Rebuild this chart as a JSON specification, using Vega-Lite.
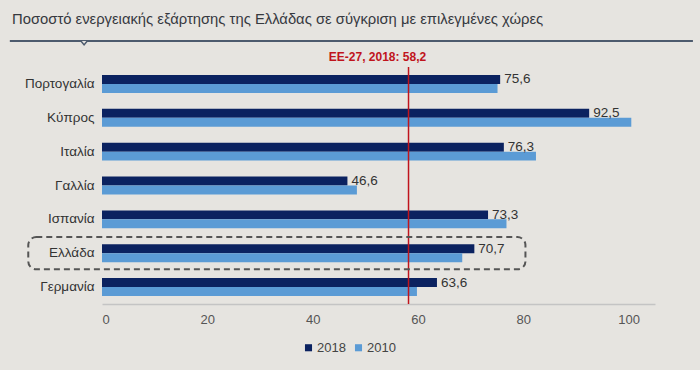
{
  "$schema": "https://vega.github.io/schema/vega-lite/v6.json",
  "width": 553,
  "height": 237,
  "autosize": {"type": "none"},
  "padding": {"left": 102, "top": 67, "right": 45, "bottom": 66},
  "background": "#e6e4e0",
  "title": {
    "text": "Ποσοστό ενεργειακής εξάρτησης της Ελλάδας σε σύγκριση με επιλεγμένες χώρες",
    "anchor": "start",
    "frame": "group",
    "dx": -90,
    "offset": 11,
    "font": "Liberation Sans",
    "fontSize": 14.8,
    "fontWeight": "normal",
    "color": "#36393f"
  },
  "config": {
    "view": {"stroke": null},
    "locale": {"number": {"decimal": ",", "thousands": ".", "grouping": [3], "currency": ["", " €"]}},
    "font": "Liberation Sans"
  },
  "datasets": {
    "bars": [
      {"country": "Πορτογαλία", "series": "2018", "value": 75.6},
      {"country": "Πορτογαλία", "series": "2010", "value": 75.1},
      {"country": "Κύπρος", "series": "2018", "value": 92.5},
      {"country": "Κύπρος", "series": "2010", "value": 100.5},
      {"country": "Ιταλία", "series": "2018", "value": 76.3},
      {"country": "Ιταλία", "series": "2010", "value": 82.4},
      {"country": "Γαλλία", "series": "2018", "value": 46.6},
      {"country": "Γαλλία", "series": "2010", "value": 48.4},
      {"country": "Ισπανία", "series": "2018", "value": 73.3},
      {"country": "Ισπανία", "series": "2010", "value": 76.8},
      {"country": "Ελλάδα", "series": "2018", "value": 70.7},
      {"country": "Ελλάδα", "series": "2010", "value": 68.4},
      {"country": "Γερμανία", "series": "2018", "value": 63.6},
      {"country": "Γερμανία", "series": "2010", "value": 59.8}
    ],
    "ref": [{"label": "ΕΕ-27, 2018: 58,2", "value": 58.2}],
    "box": [{"country": "Ελλάδα", "from": -14, "to": 80.4}],
    "deco": [{"from": -17.5, "to": 112.2, "notch": -3.4}]
  },
  "encoding": {
    "y": {
      "field": "country",
      "type": "nominal",
      "sort": ["Πορτογαλία", "Κύπρος", "Ιταλία", "Γαλλία", "Ισπανία", "Ελλάδα", "Γερμανία"],
      "scale": {"paddingInner": 0.47, "paddingOuter": 0.235},
      "axis": {
        "title": null,
        "domain": false,
        "ticks": false,
        "labelFontSize": 13.5,
        "labelColor": "#333333",
        "labelPadding": 8
      }
    }
  },
  "layer": [
    {
      "data": {"name": "bars"},
      "mark": {"type": "bar"},
      "encoding": {
        "x": {
          "field": "value",
          "type": "quantitative",
          "scale": {"domain": [0, 105], "nice": false},
          "axis": {
            "title": null,
            "values": [0, 20, 40, 60, 80, 100],
            "grid": false,
            "ticks": false,
            "domainColor": "#c4c4c4",
            "domainWidth": 1.5,
            "labelFontSize": 13,
            "labelColor": "#555555",
            "labelPadding": 9
          }
        },
        "yOffset": {"field": "series", "type": "nominal", "sort": ["2018", "2010"]},
        "color": {
          "field": "series",
          "type": "nominal",
          "sort": ["2018", "2010"],
          "scale": {"domain": ["2018", "2010"], "range": ["#0b2260", "#5b9bd5"]},
          "legend": {
            "title": null,
            "orient": "none",
            "direction": "horizontal",
            "legendX": 200,
            "legendY": 274,
            "symbolType": "square",
            "symbolSize": 50,
            "labelFontSize": 13,
            "labelColor": "#444444",
            "labelOffset": 2,
            "columnPadding": 6
          }
        }
      }
    },
    {
      "data": {"name": "bars"},
      "transform": [{"filter": "datum.series == '2018'"}],
      "mark": {"type": "text", "align": "left", "baseline": "middle", "dx": 4, "fontSize": 13.5, "color": "#333333"},
      "encoding": {
        "x": {"field": "value", "type": "quantitative"},
        "yOffset": {"field": "series", "type": "nominal", "sort": ["2018", "2010"]},
        "text": {"field": "value", "type": "quantitative", "format": ".1f"}
      }
    },
    {
      "data": {"name": "ref"},
      "mark": {"type": "rule", "color": "#c0141c", "strokeWidth": 1.5},
      "encoding": {"x": {"field": "value", "type": "quantitative"}, "y": null}
    },
    {
      "data": {"name": "ref"},
      "mark": {"type": "text", "align": "center", "baseline": "bottom", "dy": -3, "dx": -31, "fontSize": 12, "fontWeight": "bold", "color": "#c0141c"},
      "encoding": {
        "x": {"field": "value", "type": "quantitative"},
        "y": {"value": 0},
        "text": {"field": "label"}
      }
    },
    {
      "data": {"name": "box"},
      "mark": {"type": "rect", "fill": null, "stroke": "#555555", "strokeWidth": 2, "strokeDash": [6, 4], "cornerRadius": 8, "clip": false, "height": {"band": 1.8}},
      "encoding": {
        "x": {"field": "from", "type": "quantitative"},
        "x2": {"field": "to"}
      }
    },
    {
      "data": {"name": "deco"},
      "mark": {"type": "rule", "color": "#4d5b6e", "strokeWidth": 2},
      "encoding": {
        "x": {"field": "from", "type": "quantitative"},
        "x2": {"field": "to"},
        "y": {"value": -26}
      }
    },
    {
      "data": {"name": "deco"},
      "mark": {"type": "point", "shape": "M-1,-0.6L0,0.6L1,-0.6", "filled": false, "stroke": "#4d5b6e", "fill": "#e6e4e0", "strokeWidth": 1.5, "size": 40, "opacity": 1},
      "encoding": {
        "x": {"field": "notch", "type": "quantitative"},
        "y": {"value": -24}
      }
    }
  ]
}
